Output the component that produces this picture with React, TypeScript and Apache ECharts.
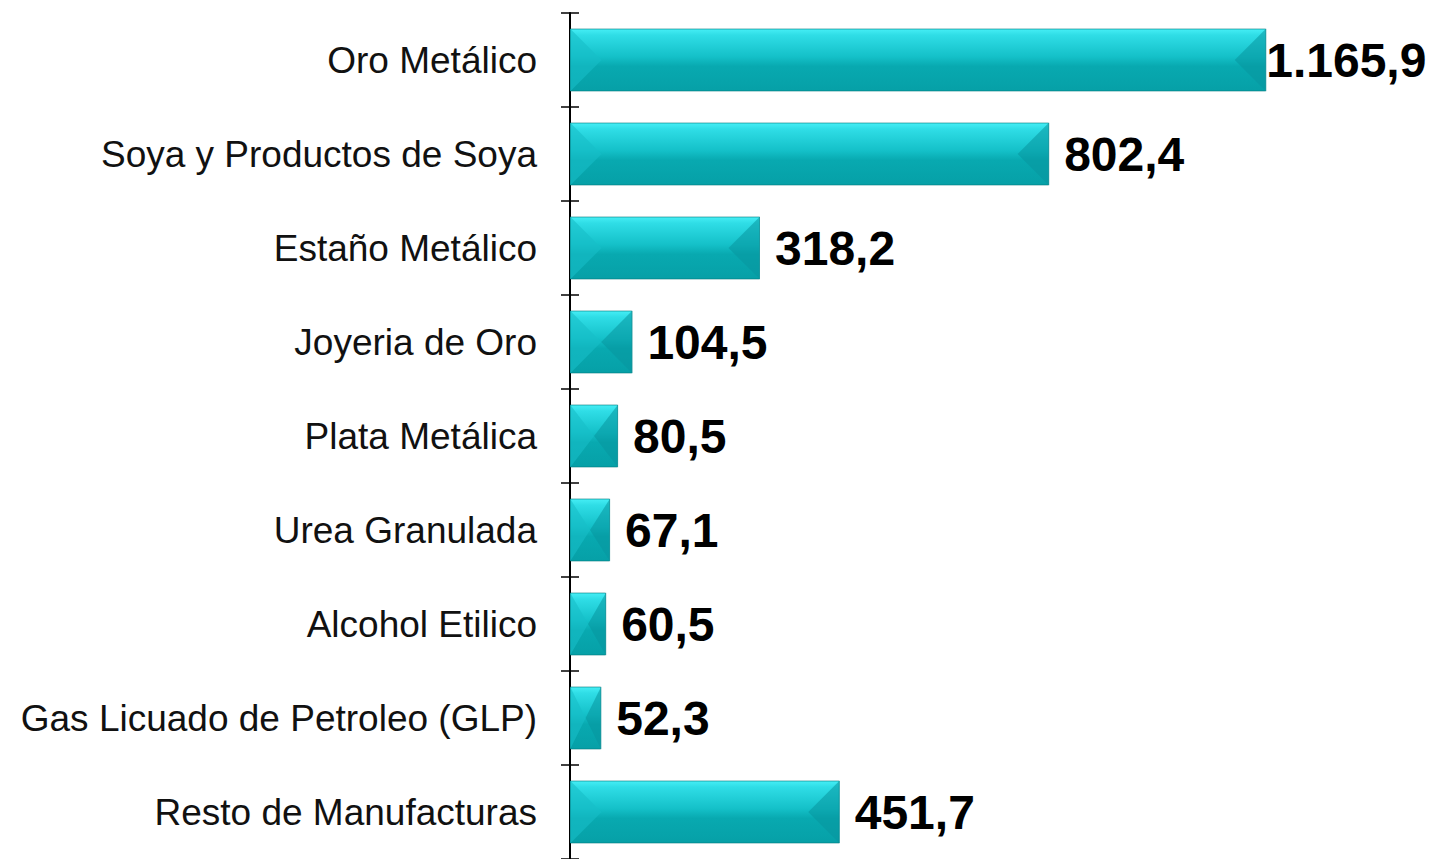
import React, { useEffect, useRef } from "react";
import * as echarts from "echarts";

const categories = [
  "Oro Metálico",
  "Soya y Productos de Soya",
  "Estaño Metálico",
  "Joyeria de Oro",
  "Plata Metálica",
  "Urea Granulada",
  "Alcohol Etilico",
  "Gas Licuado de Petroleo (GLP)",
  "Resto de Manufacturas",
];
const values = [1165.9, 802.4, 318.2, 104.5, 80.5, 67.1, 60.5, 52.3, 451.7];

const fmt = (v: number) => {
  const [i, d] = v.toFixed(1).split(".");
  return i.replace(/\B(?=(\d{3})+(?!\d))/g, ".") + "," + d;
};

export default function App() {
  const ref = useRef<HTMLDivElement>(null);
  useEffect(() => {
    if (!ref.current) return;
    const chart = echarts.init(ref.current, undefined, { renderer: "svg" });
    const font = "'Liberation Sans', Arial, sans-serif";
    const yBase = {
      type: "category" as const,
      data: categories,
      inverse: true,
      boundaryGap: true,
    };
    chart.setOption({
      animation: false,
      backgroundColor: "#ffffff",
      grid: { left: 570, top: 13, width: 836, height: 848, containLabel: false },
      xAxis: { type: "value", min: 0, max: 1400, show: false },
      yAxis: [
        {
          ...yBase,
          axisLine: { show: true, lineStyle: { color: "#000", width: 2 } },
          axisTick: { show: true, length: 9, lineStyle: { color: "#000", width: 1.5 } },
          axisLabel: { margin: 33, fontSize: 37, color: "#111", fontFamily: font },
        },
        {
          ...yBase,
          position: "left",
          axisLine: { show: false },
          axisTick: { show: true, inside: true, length: 9, lineStyle: { color: "#000", width: 1.5 } },
          axisLabel: { show: false },
        },
      ],
      series: [
        {
          type: "bar",
          yAxisIndex: 0,
          barWidth: "67%",
          data: values.map((v, i) => ({
            value: v,
            label: i === 0 ? { distance: 0 } : undefined,
          })),
          itemStyle: {
            color: new echarts.graphic.LinearGradient(0, 0, 0, 1, [
              { offset: 0, color: "#45eef5" },
              { offset: 0.1, color: "#2fdde6" },
              { offset: 0.45, color: "#14c0c8" },
              { offset: 0.6, color: "#08a9b0" },
              { offset: 1, color: "#06a0a7" },
            ]),
            borderColor: "rgba(0,120,125,0.6)",
            borderWidth: 1,
          },
          label: {
            show: true,
            position: "right",
            distance: 15,
            fontSize: 48,
            fontWeight: "bold",
            color: "#000",
            fontFamily: font,
            formatter: (p: any) => fmt(p.value),
          },
          z: 2,
        },
        {
          type: "custom",
          yAxisIndex: 0,
          silent: true,
          z: 3,
          data: values.map((v, i) => [v, i]),
          renderItem: (params: any, api: any) => {
            const v = api.value(0);
            const idx = api.value(1);
            const p0 = api.coord([0, idx]);
            const p1 = api.coord([v, idx]);
            const band = api.size([0, 1])[1];
            const h = band * 0.67;
            const x0 = p0[0];
            const x1 = p1[0];
            const yc = p0[1];
            const yt = yc - h / 2;
            const yb = yc + h / 2;
            const w = x1 - x0;
            const b = Math.min(h / 2, w / 2);
            return {
              type: "group",
              children: [
                {
                  type: "polygon",
                  shape: { points: [[x0, yt], [x0 + b, yc], [x0, yb]] },
                  style: { fill: "rgba(24,190,200,0.6)" },
                },
                {
                  type: "polygon",
                  shape: { points: [[x1, yt], [x1 - b, yc], [x1, yb]] },
                  style: { fill: "rgba(8,150,158,0.55)" },
                },
              ],
            };
          },
        },
      ],
    });
    return () => chart.dispose();
  }, []);
  return (
    <div
      ref={ref}
      style={{ position: "fixed", left: 0, top: 0, width: 1430, height: 859 }}
    />
  );
}
